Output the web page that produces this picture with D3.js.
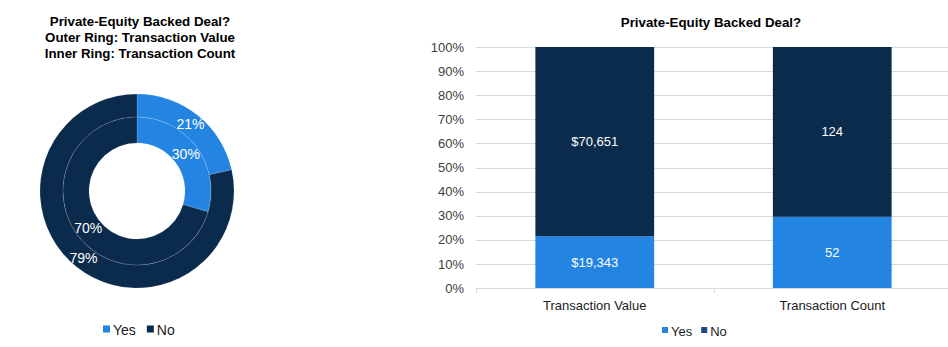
<!DOCTYPE html>
<html>
<head>
<meta charset="utf-8">
<script src="https://cdn.jsdelivr.net/npm/d3@7/dist/d3.min.js"></script>
<style>
  html, body { margin: 0; padding: 0; background: #fff; }
  svg { display: block; font-family: "Liberation Sans", Arial, sans-serif; }
</style>
</head>
<body>
<svg id="chart" width="948" height="347"></svg>
<script>
// ---- Data ----
const seriesNames = ["Yes", "No"];
const categories = ["Transaction Value", "Transaction Count"];
const yesValues = [19343, 52];
const noValues = [70651, 124];
const yTickLabels = ["0%", "10%", "20%", "30%", "40%", "50%", "60%", "70%", "80%", "90%", "100%"];
const donutTitle = ["Private-Equity Backed Deal?", "Outer Ring: Transaction Value", "Inner Ring: Transaction Count"];
const barTitle = "Private-Equity Backed Deal?";

const colors = { Yes: "#2484E2", No: "#0B2B4D" };
const barLegendNo = "#174B86";

const svg = d3.select("#chart");

// ---- Donut chart ----
const cx = 137, cy = 191;
const rOuter = 97, rMid = 74, rInner = 48;

const tg = svg.append("g");
donutTitle.forEach((t, i) => {
  tg.append("text").attr("x", 140).attr("y", 26 + i * 16)
    .attr("text-anchor", "middle").attr("font-weight", "bold")
    .attr("font-size", 13.3).attr("fill", "#000").text(t);
});

const pie = d3.pie().sort(null).value(d => d.v);
const rings = [
  { idx: 0, r0: rMid, r1: rOuter },   // outer: value
  { idx: 1, r0: rInner, r1: rMid }    // inner: count
];
const dg = svg.append("g").attr("transform", `translate(${cx},${cy})`);
rings.forEach(ring => {
  const data = seriesNames.map((s, j) => ({ s, v: j === 0 ? yesValues[ring.idx] : noValues[ring.idx] }));
  const total = d3.sum(data, d => d.v);
  const arc = d3.arc().innerRadius(ring.r0).outerRadius(ring.r1);
  const arcs = pie(data);
  dg.selectAll(null).data(arcs).enter().append("path")
    .attr("d", arc)
    .attr("fill", d => colors[d.data.s])
    .attr("stroke", "rgba(255,255,255,0.22)")
    .attr("stroke-width", 0.6);
  dg.selectAll(null).data(arcs).enter().append("text")
    .attr("transform", d => `translate(${arc.centroid(d)})`)
    .attr("text-anchor", "middle").attr("dy", "0.36em")
    .attr("font-size", 14).attr("fill", "#fff")
    .text(d => Math.round(d.data.v / total * 100) + "%");
});

// legend helper
function legend(x0, y, items, fontSize, sq, gap) {
  const lg = svg.append("g");
  let x = x0;
  items.forEach(it => {
    lg.append("rect").attr("x", x).attr("y", y - sq / 2 - 1).attr("width", sq).attr("height", sq).attr("fill", it.c);
    const t = lg.append("text").attr("x", x + sq + 3).attr("y", y).attr("dy", "0.35em")
      .attr("font-size", fontSize).attr("fill", "#1a1a1a").text(it.t);
    x += sq + 3 + t.node().getComputedTextLength() + gap;
  });
}
legend(103, 330, [{ t: "Yes", c: colors.Yes }, { t: "No", c: colors.No }], 14, 7, 11);

// ---- Stacked 100% bar chart ----
const plot = { left: 476, right: 951, top: 47, bottom: 288 };
const x = d3.scaleBand().domain(categories).range([plot.left, plot.right]).paddingInner(0.5).paddingOuter(0.25);
const y = d3.scaleLinear().domain([0, 1]).range([plot.bottom, plot.top]);

svg.append("text").attr("x", 711).attr("y", 27).attr("text-anchor", "middle")
  .attr("font-weight", "bold").attr("font-size", 13.3).attr("fill", "#000").text(barTitle);

// gridlines
const ticks = d3.range(0, 11).map(i => i / 10);
svg.append("g").selectAll("line").data(ticks).enter().append("line")
  .attr("x1", plot.left).attr("x2", plot.right)
  .attr("y1", d => Math.round(y(d)) + 0.5).attr("y2", d => Math.round(y(d)) + 0.5)
  .attr("stroke", "#d9d9d9").attr("stroke-width", 1);

// y axis labels
const yAxis = d3.axisLeft(y).tickValues(ticks).tickSize(0).tickPadding(0)
  .tickFormat((d, i) => yTickLabels[i]);
const yg = svg.append("g").attr("transform", `translate(464,0)`).call(yAxis);
yg.select(".domain").remove();
yg.selectAll("text").attr("font-size", 13).attr("fill", "#404040")
  .attr("font-family", "'Liberation Sans', Arial, sans-serif");

// bars
const stacked = categories.map((c, i) => {
  const tot = yesValues[i] + noValues[i];
  return [
    { c, s: "Yes", v: yesValues[i], y0: 0, y1: yesValues[i] / tot, label: i === 0 ? "$" + d3.format(",")(yesValues[i]) : String(yesValues[i]) },
    { c, s: "No", v: noValues[i], y0: yesValues[i] / tot, y1: 1, label: i === 0 ? "$" + d3.format(",")(noValues[i]) : String(noValues[i]) }
  ];
}).flat();

const bg = svg.append("g");
bg.selectAll("rect").data(stacked).enter().append("rect")
  .attr("x", d => x(d.c)).attr("width", x.bandwidth())
  .attr("y", d => y(d.y1)).attr("height", d => y(d.y0) - y(d.y1))
  .attr("fill", d => colors[d.s]);
bg.selectAll("text").data(stacked).enter().append("text")
  .attr("x", d => x(d.c) + x.bandwidth() / 2)
  .attr("y", d => (y(d.y0) + y(d.y1)) / 2).attr("dy", "0.35em")
  .attr("text-anchor", "middle").attr("font-size", 13).attr("fill", "#fff")
  .text(d => d.label);

// x axis
const xg = svg.append("g").attr("transform", `translate(0,${plot.bottom})`);
xg.append("line").attr("x1", plot.left).attr("x2", plot.right).attr("y1", 0.5).attr("y2", 0.5)
  .attr("stroke", "#d9d9d9");
const bounds = [plot.left, plot.left + x.step(), plot.right];
xg.selectAll("line.tk").data(bounds).enter().append("line").attr("class", "tk")
  .attr("x1", d => Math.round(d) + 0.5).attr("x2", d => Math.round(d) + 0.5).attr("y1", 0).attr("y2", 5)
  .attr("stroke", "#d9d9d9");
xg.selectAll("text").data(categories).enter().append("text")
  .attr("x", d => x(d) + x.bandwidth() / 2).attr("y", 17).attr("dy", "0.35em")
  .attr("text-anchor", "middle").attr("font-size", 13).attr("fill", "#1a1a1a").text(d => d);

legend(662, 331, [{ t: "Yes", c: colors.Yes }, { t: "No", c: barLegendNo }], 13, 6, 9);
</script>
</body>
</html>
